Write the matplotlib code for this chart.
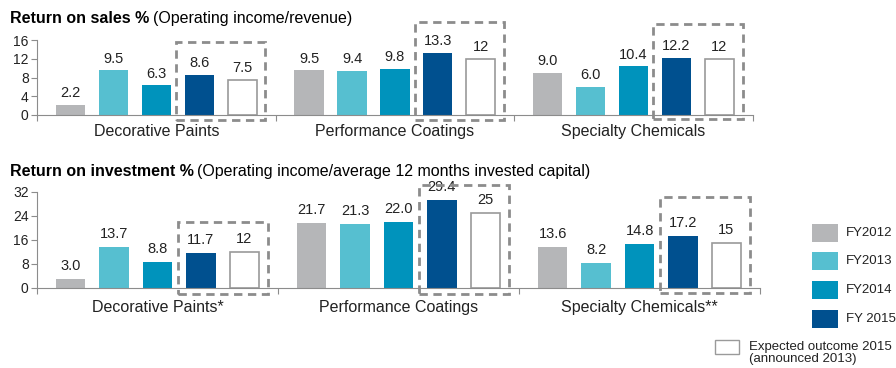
import matplotlib.pyplot as plt
from matplotlib.patches import Rectangle
import numpy as np

plt.rcParams['font.family'] = ['Liberation Sans', 'DejaVu Sans']

# data
series = ['FY2012', 'FY2013', 'FY2014', 'FY 2015', 'Expected outcome 2015\n(announced 2013)']
ros_groups = ['Decorative Paints', 'Performance Coatings', 'Specialty Chemicals']
roi_groups = ['Decorative Paints*', 'Performance Coatings', 'Specialty Chemicals**']
ros = [[2.2, 9.5, 6.3, 8.6, 7.5],
       [9.5, 9.4, 9.8, 13.3, 12],
       [9.0, 6.0, 10.4, 12.2, 12]]
roi = [[3.0, 13.7, 8.8, 11.7, 12],
       [21.7, 21.3, 22.0, 29.4, 25],
       [13.6, 8.2, 14.8, 17.2, 15]]
ros_labels = [['2.2', '9.5', '6.3', '8.6', '7.5'],
              ['9.5', '9.4', '9.8', '13.3', '12'],
              ['9.0', '6.0', '10.4', '12.2', '12']]
roi_labels = [['3.0', '13.7', '8.8', '11.7', '12'],
              ['21.7', '21.3', '22.0', '29.4', '25'],
              ['13.6', '8.2', '14.8', '17.2', '15']]
# dashed box top / bottom per group (data units)
ros_box = [(15.6, -1.1), (19.8, -1.1), (19.4, -0.9)]
roi_box = [(22.0, -2.0), (34.3, -2.0), (30.3, -1.7)]

colors = ['#B5B6B8', '#56BFD0', '#0093BC', '#00508F', 'white']
grey = '#8C8C8C'

fig = plt.figure(figsize=(8.96, 3.68), dpi=100)
ax1 = fig.add_axes([0.0413, 0.6875, 0.799, 0.2038])
ax2 = fig.add_axes([0.0413, 0.2174, 0.807, 0.2609])

step = 0.18
width = 0.122
offsets = (np.arange(5) - 2) * step


def draw(ax, vals, labels, groups, boxes, ymax, yticks, pad):
    for g in range(len(groups)):
        for s in range(5):
            x = g + offsets[s]
            ec = '#9A9A9A' if s == 4 else colors[s]
            ax.bar(x, vals[g][s], width, color=colors[s], edgecolor=ec, linewidth=1.2 if s == 4 else 0)
            ax.text(x, vals[g][s] + pad, labels[g][s], ha='center', va='bottom', fontsize=10.5, color='#222222')
        top, bot = boxes[g]
        x0 = g + offsets[3] - width / 2 - 0.036
        x1 = g + offsets[4] + width / 2 + 0.036
        ax.add_patch(Rectangle((x0, bot), x1 - x0, top - bot, fill=False, edgecolor=grey,
                               linestyle=(0, (3, 2)), linewidth=2, clip_on=False, zorder=5))
    ax.set_xlim(-0.5, len(groups) - 0.5)
    ax.set_ylim(0, ymax)
    ax.set_yticks(yticks)
    ax.tick_params(axis='y', labelsize=10, colors='#222222', length=4, color=grey, pad=2)
    ax.set_xticks(np.arange(len(groups) + 1) - 0.5, minor=False)
    ax.set_xticklabels([])
    ax.tick_params(axis='x', length=4, color=grey)
    for g, name in enumerate(groups):
        ax.text(g, -ymax * 0.12, name, ha='center', va='top', fontsize=11.5, color='#222222')
    for sp in ['top', 'right']:
        ax.spines[sp].set_visible(False)
    for sp in ['left', 'bottom']:
        ax.spines[sp].set_color(grey)


draw(ax1, ros, ros_labels, ros_groups, ros_box, 16, [0, 4, 8, 12, 16], 1.0)
draw(ax2, roi, roi_labels, roi_groups, roi_box, 32, [0, 8, 16, 24, 32], 2.0)

fig.text(0.011, 0.951, 'Return on sales %', fontsize=11.5, fontweight='bold', va='center')
fig.text(153 / 896, 0.951, '(Operating income/revenue)', fontsize=11.5, va='center')
fig.text(0.011, 0.533, 'Return on investment %', fontsize=11.5, fontweight='bold', va='center')
fig.text(197 / 896, 0.533, '(Operating income/average 12 months invested capital)', fontsize=11.5, va='center')

# legend
leg_y = [233, 261, 290, 319]
for i in range(4):
    fig.patches.append(Rectangle((812 / 896, 1 - (leg_y[i] + 9) / 368), 26 / 896, 18 / 368,
                                 transform=fig.transFigure, facecolor=colors[i], edgecolor='none'))
    fig.text(846 / 896, 1 - leg_y[i] / 368, series[i], fontsize=9.5, va='center', color='#222222')
fig.patches.append(Rectangle((715 / 896, 1 - 354 / 368), 24 / 896, 14 / 368,
                             transform=fig.transFigure, facecolor='white', edgecolor='#9A9A9A', linewidth=1))
fig.text(749 / 896, 1 - 353 / 368, series[4], fontsize=9.5, va='center', color='#222222', linespacing=1.1)

fig.savefig('out.png', dpi=100)
